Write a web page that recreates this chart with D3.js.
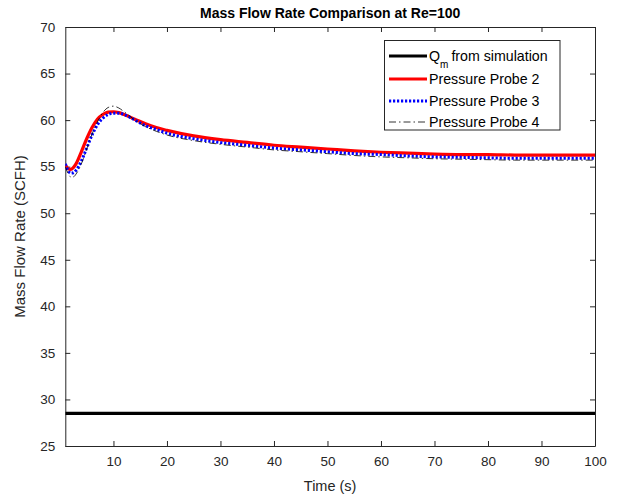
<!DOCTYPE html>
<html>
<head>
<meta charset="utf-8">
<script src="https://cdn.jsdelivr.net/npm/d3@7"></script>
<style>
  html, body { margin: 0; padding: 0; background: #fff; }
  svg { display: block; font-family: "Liberation Sans", Arial, Helvetica, sans-serif; }
</style>
</head>
<body>
<svg id="chart" width="619" height="498"></svg>
<script>
// ---- data ----
const title = "Mass Flow Rate Comparison at Re=100";
const xLabel = "Time (s)";
const yLabel = "Mass Flow Rate (SCFH)";
const xTicks = [10, 20, 30, 40, 50, 60, 70, 80, 90, 100];
const yTicks = [25, 30, 35, 40, 45, 50, 55, 60, 65, 70];
const seriesNames = ["from simulation", "Pressure Probe 2", "Pressure Probe 3", "Pressure Probe 4"];

const qmTime = [1, 100];
const qmValues = [28.5, 28.5];

const time = [1, 1.5, 2, 2.5, 3, 4, 5, 6, 7, 8, 9, 10, 11, 12, 14, 16, 18, 20, 25, 30, 35, 40, 45, 50, 55, 60, 65, 70, 75, 80, 85, 90, 95, 100];
const probe2 = [55.2, 54.8, 54.7, 54.9, 55.3, 56.6, 58.0, 59.2, 60.1, 60.6, 60.85, 60.9, 60.8, 60.6, 60.1, 59.6, 59.2, 58.9, 58.3, 57.9, 57.6, 57.3, 57.1, 56.9, 56.7, 56.55, 56.45, 56.35, 56.3, 56.3, 56.25, 56.25, 56.25, 56.25];
const probe3 = [55.3, 54.6, 54.3, 54.35, 54.6, 55.6, 57.0, 58.4, 59.5, 60.2, 60.6, 60.75, 60.75, 60.6, 60.0, 59.4, 59.0, 58.6, 58.0, 57.6, 57.3, 57.0, 56.8, 56.6, 56.4, 56.3, 56.15, 56.05, 56.0, 55.95, 55.9, 55.9, 55.9, 55.9];
const probe4 = [55.0, 54.3, 53.9, 53.9, 54.2, 55.3, 56.9, 58.5, 59.8, 60.8, 61.35, 61.5, 61.3, 60.9, 60.0, 59.3, 58.8, 58.4, 57.8, 57.4, 57.1, 56.8, 56.6, 56.4, 56.2, 56.05, 55.95, 55.85, 55.8, 55.75, 55.7, 55.7, 55.7, 55.7];

// ---- layout ----
const svg = d3.select("#chart");
const L = 65.3, R = 595, T = 27, B = 446;
const axisColor = "#262626";

const x = d3.scaleLinear().domain([1, 100]).range([L, R]);
const y = d3.scaleLinear().domain([25, 70]).range([B, T]);

svg.append("defs").append("clipPath").attr("id", "clip")
  .append("rect").attr("x", L).attr("y", T).attr("width", R - L).attr("height", B - T);

const tickLen = 5;
const gB = svg.append("g").attr("transform", `translate(0,${B})`)
  .call(d3.axisBottom(x).tickValues(xTicks).tickSizeInner(-tickLen).tickSizeOuter(0).tickPadding(10));
const gT = svg.append("g").attr("transform", `translate(0,${T})`)
  .call(d3.axisTop(x).tickValues(xTicks).tickSizeInner(-tickLen).tickSizeOuter(0).tickFormat(""));
const gL = svg.append("g").attr("transform", `translate(${L},0)`)
  .call(d3.axisLeft(y).tickValues(yTicks).tickSizeInner(-tickLen).tickSizeOuter(0).tickPadding(10));
const gR = svg.append("g").attr("transform", `translate(${R},0)`)
  .call(d3.axisRight(y).tickValues(yTicks).tickSizeInner(-tickLen).tickSizeOuter(0).tickFormat(""));

[gB, gT, gL, gR].forEach(g => {
  g.select(".domain").attr("stroke", axisColor).attr("stroke-width", 1);
  g.selectAll(".tick line").attr("stroke", axisColor).attr("stroke-width", 1);
  g.selectAll(".tick text").attr("fill", axisColor).attr("font-size", 13.5)
    .attr("font-family", "'Liberation Sans', Arial, Helvetica, sans-serif");
});

const line = d3.line().x(d => x(d[0])).y(d => y(d[1])).curve(d3.curveMonotoneX);
const plot = svg.append("g").attr("clip-path", "url(#clip)");

plot.append("path").datum(d3.zip(qmTime, qmValues)).attr("d", line)
  .attr("fill", "none").attr("stroke", "#000").attr("stroke-width", 3.2);
plot.append("path").datum(d3.zip(time, probe2)).attr("d", line)
  .attr("fill", "none").attr("stroke", "#ff0000").attr("stroke-width", 3.2);
plot.append("path").datum(d3.zip(time, probe3)).attr("d", line)
  .attr("fill", "none").attr("stroke", "#0000ff").attr("stroke-width", 3)
  .attr("stroke-dasharray", "2.2,1.8");
plot.append("path").datum(d3.zip(time, probe4)).attr("d", line)
  .attr("fill", "none").attr("stroke", "#000").attr("stroke-width", 0.8)
  .attr("stroke-dasharray", "7,3,1.5,3");

svg.append("text").attr("x", (L + R) / 2).attr("y", 18).attr("text-anchor", "middle")
  .attr("font-size", 14).attr("font-weight", "bold").attr("fill", "#000").text(title);
svg.append("text").attr("x", (L + R) / 2).attr("y", 491).attr("text-anchor", "middle")
  .attr("font-size", 14.5).attr("fill", axisColor).text(xLabel);
svg.append("text").attr("transform", `translate(25,${(T + B) / 2}) rotate(-90)`)
  .attr("text-anchor", "middle").attr("font-size", 15).attr("fill", axisColor).text(yLabel);

const lg = svg.append("g");
lg.append("rect").attr("x", 384.5).attr("y", 40.5).attr("width", 175.5).attr("height", 89.5)
  .attr("fill", "#fff").attr("stroke", axisColor).attr("stroke-width", 1);
const rows = [
  { y: 56, stroke: "#000", w: 3.2, dash: null },
  { y: 79, stroke: "#ff0000", w: 3.2, dash: null },
  { y: 101, stroke: "#0000ff", w: 3, dash: "2.2,1.8" },
  { y: 122, stroke: "#000", w: 0.8, dash: "7,3,1.5,3" }
];
rows.forEach((r, i) => {
  const ln = lg.append("line").attr("x1", 389).attr("x2", 427).attr("y1", r.y).attr("y2", r.y)
    .attr("stroke", r.stroke).attr("stroke-width", r.w);
  if (r.dash) ln.attr("stroke-dasharray", r.dash);
  const t = lg.append("text").attr("x", 429).attr("y", r.y + 5).attr("font-size", 14.2).attr("fill", "#000");
  if (i === 0) {
    t.append("tspan").text("Q");
    t.append("tspan").attr("font-size", 10).attr("dy", 7).text("m");
    t.append("tspan").attr("dy", -7).attr("dx", 3).text(seriesNames[0]);
  } else {
    t.text(seriesNames[i]);
  }
});
</script>
</body>
</html>
